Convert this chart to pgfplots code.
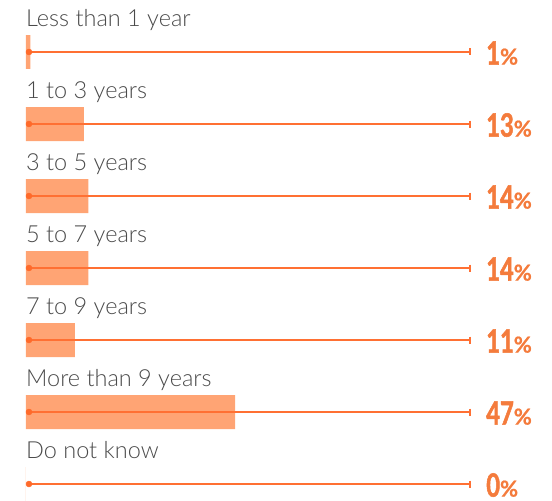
\documentclass[border=0pt]{standalone}
\usepackage{pgfplots}
\pgfplotsset{compat=1.18}
\usepackage{pgfplotstable}
\usetikzlibrary{arrows.meta}
\usepackage{fontspec}
\setmainfont{Lato}
\newfontfamily\labfont{Lato Light}
\newfontfamily\numfont{Lato Bold}[FakeStretch=0.74, FakeBold=1.6]
\newfontfamily\pctfont{Lato Bold}[FakeBold=0.8]
\definecolor{barfill}{HTML}{FFA474}
\definecolor{lineor}{HTML}{FF7033}
\definecolor{dotor}{HTML}{FF6A2A}
\definecolor{txtor}{HTML}{F47B3C}
\definecolor{txtgray}{HTML}{4A4A4A}
\pgfplotstableread[col sep=comma]{
row,val,x0,err,name
0,1,0.67,99.33,Less than 1 year
1,13,0.67,99.33,1 to 3 years
2,14,0.67,99.33,3 to 5 years
3,14,0.67,99.33,5 to 7 years
4,11,0.67,99.33,7 to 9 years
5,47,0.67,99.33,More than 9 years
6,0,0.67,99.33,Do not know
}\data
\begin{document}
\begin{tikzpicture}
\begin{axis}[
  width=552bp, height=501bp, scale only axis,
  xmin=-5.84, xmax=118.2,
  ymin=-0.72222, ymax=6.23611, y dir=reverse,
  hide axis, clip=false,
]
\path (rel axis cs:0,0) rectangle (rel axis cs:1,1);
% bars
\addplot[xbar, fill=barfill, draw=none, bar width=0.4722]
  table[x=val, y=row]{\data};
% lines with end tick
\addplot[draw=lineor, line width=1.6bp,
  quiver={u=\thisrow{err}, v=0},
  -{Bar[width=7bp, line width=1.6bp]}]
  table[x=x0, y=row]{\data};
% start dots
\addplot[only marks, mark=*, mark size=3bp, color=dotor]
  table[x=x0, y=row]{\data};
% category labels
\addplot[draw=none, mark=none, nodes near coords, point meta=explicit symbolic,
  nodes near coords style={anchor=base west, inner sep=0pt, text=txtgray,
    font=\labfont\fontsize{23.5bp}{28bp}\selectfont}]
  table[x expr=0, y expr=\thisrow{row}-0.355, meta=name]{\data};
% percent labels
\addplot[draw=none, mark=none, point meta=explicit symbolic,
  nodes near coords={{\numfont\fontsize{32bp}{36bp}\selectfont\pgfplotspointmeta}{\pctfont\fontsize{22bp}{26bp}\selectfont\%}},
  nodes near coords style={anchor=base west, inner sep=0pt, text=txtor}]
  table[x expr=103.4, y expr=\thisrow{row}+0.175, meta=val]{\data};
\end{axis}
\end{tikzpicture}
\end{document}
